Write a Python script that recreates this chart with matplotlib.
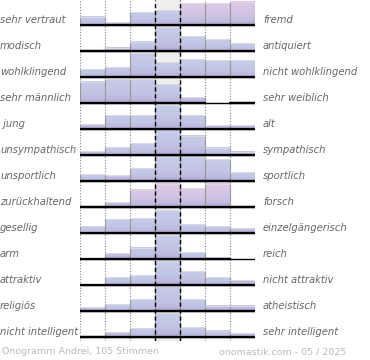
import numpy as np
import matplotlib
matplotlib.use("Agg")
import matplotlib.pyplot as plt
from matplotlib.patches import Rectangle
from matplotlib.colors import to_rgb

# %%
left_labels = ["sehr vertraut", "modisch", "wohlklingend", "sehr männlich", " jung",
               "unsympathisch", "unsportlich", "zurückhaltend", "gesellig", "arm",
               "attraktiv", "religiös", "nicht intelligent"]
right_labels = ["fremd", "antiquiert", "nicht wohlklingend", "sehr weiblich", "alt",
                "sympathisch", "sportlich", "forsch", "einzelgängerisch", "reich",
                "nicht attraktiv", "atheistisch", "sehr intelligent"]

# bar heights per row, 7 bins (pixels of a 26 px row)
votes = [
    [8.3, 2.7, 12.7, 15.0, 21.7, 21.7, 23.3],
    [2.0, 3.3, 9.3, 24.0, 14.7, 12.0, 8.0],
    [8.0, 10.0, 24.0, 15.0, 18.0, 17.0, 17.0],
    [21.3, 24.0, 24.0, 19.0, 5.7, 0.0, 1.7],
    [4.7, 13.7, 13.7, 24.0, 13.7, 3.7, 3.7],
    [3.7, 7.7, 12.0, 25.0, 19.3, 7.3, 3.3],
    [6.7, 5.7, 12.7, 24.3, 24.0, 21.7, 9.0],
    [2.0, 4.7, 17.3, 23.3, 18.7, 23.3, 2.0],
    [7.0, 14.0, 15.0, 23.0, 9.0, 6.7, 4.7],
    [1.0, 5.7, 11.3, 24.0, 6.7, 1.3, 0.0],
    [0.5, 7.7, 9.7, 23.3, 14.0, 7.7, 4.7],
    [3.7, 7.0, 12.0, 24.7, 12.0, 5.3, 5.3],
    [1.7, 5.0, 8.7, 23.7, 9.7, 6.3, 4.0],
]
# bins drawn in pink
pink = {0: [4, 5, 6], 7: [2, 3, 4, 5]}

footer_left = "Onogramm Andrei, 105 Stimmen"
footer_right = "onomastik.com - 05 / 2025"

# %%
W, H = 370, 360
fig = plt.figure(figsize=(W / 100, H / 100), dpi=100)
x0, x1 = 80, 255
y_top, y_bot = 0, 341
row_h = 26
ax = fig.add_axes([x0 / W, 1 - y_bot / H, (x1 - x0) / W, (y_bot - y_top) / H])
nrows = len(votes)
ax.set_xlim(0, 7)
ax.set_ylim(0, (y_bot - y_top) / row_h)
ax.axis("off")

# center column background
ax.axvspan(3, 4, color="#eeeeee", zorder=0)
for b in range(8):
    if b in (3, 4):
        ax.axvline(b, color="black", lw=1, ls=(0, (3, 2)), zorder=5)
    else:
        ax.axvline(b, color="#888888", lw=0.8, ls=(0, (1, 1.5)), zorder=1)

blue_grad = np.array([to_rgb("#c6cce9"), to_rgb("#c2c6e6"), to_rgb("#bdb9df"), to_rgb("#a89ccc")])
pink_grad = np.array([to_rgb("#dfc9e7"), to_rgb("#d2c4e4"), to_rgb("#c0bce0"), to_rgb("#a89ccc")])

for i, row in enumerate(votes):
    base = (y_bot - 25 - row_h * i) / row_h
    for b, h in enumerate(row):
        hh = h / row_h
        if hh <= 0:
            continue
        grad = pink_grad if b in pink.get(i, []) else blue_grad
        n = max(int(h * 2), 2)
        t = np.linspace(0, 1, n)
        # top -> bottom colors, darker band near the base
        stops = np.array([0, 0.5, 0.85, 1.0]) if h > 6 else np.array([0, 0.2, 0.5, 1.0])
        img = np.stack([np.interp(t, stops, grad[:, c]) for c in range(3)], axis=1)
        ax.imshow(img[:, None, :], extent=(b, b + 1, base, base + hh), aspect="auto",
                  interpolation="bilinear", zorder=2)
        ax.add_patch(Rectangle((b + 1, base), 0.04, hh * 0.97, color="#dddddd", lw=0, zorder=1.9))
        ax.plot([b, b], [base, base + hh], color="#999999", lw=0.8, zorder=3)
        ax.plot([b + 1, b + 1], [base, base + hh], color="#999999", lw=0.8, zorder=3)
        ax.plot([b, b + 1], [base + hh, base + hh], color="#dddddd", lw=0.6, zorder=3)
        ax.plot([b, b + 1], [base, base], color="black", lw=1.6, zorder=4)
    ax.plot([0, 7], [base, base], color="black", lw=1.0, zorder=4)
    ty = 1 - (25 + row_h * i - 5) / H
    fig.text(0 / W, ty, left_labels[i], ha="left", va="center", fontsize=7.2,
             style="italic", color="#666666")
    fig.text(263 / W, ty, right_labels[i], ha="left", va="center", fontsize=7.2,
             style="italic", color="#666666")

fig.text(2 / W, 1 - 352 / H, footer_left, ha="left", va="center", fontsize=6.8, color="#bbbbbb")
fig.text(346 / W, 1 - 352 / H, footer_right, ha="right", va="center", fontsize=6.8, color="#bbbbbb")

fig.savefig("out.png", dpi=100)
